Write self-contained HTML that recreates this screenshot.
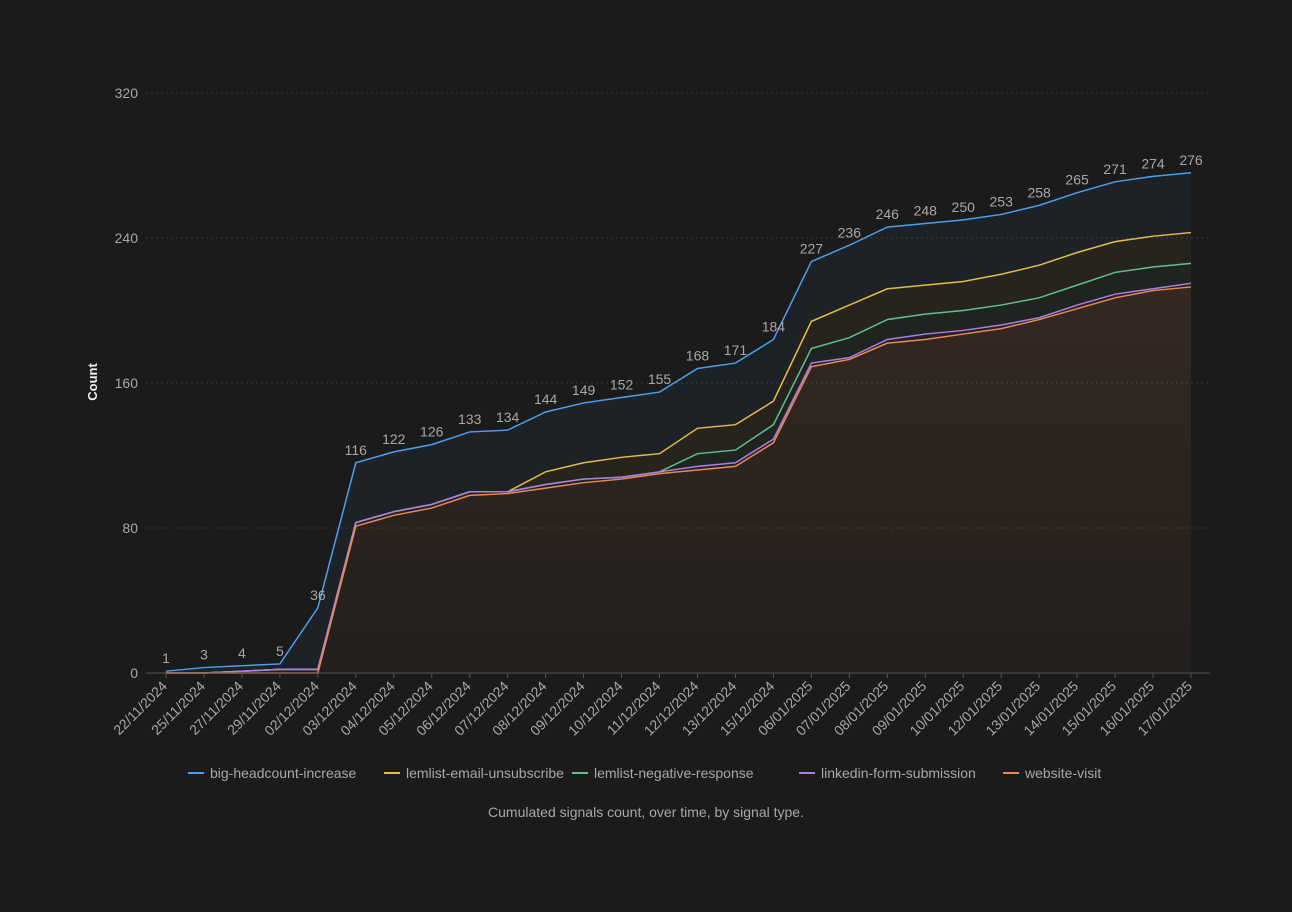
<!DOCTYPE html>
<html><head><meta charset="utf-8"><style>
html,body{margin:0;padding:0;background:#1b1b1b;}
svg text{font-family:"Liberation Sans",sans-serif;}
</style></head><body>
<svg id="chart" width="1292" height="907" xmlns="http://www.w3.org/2000/svg">
<defs>
<linearGradient id="gOrange" x1="0" y1="0" x2="0" y2="1"><stop offset="0" stop-color="#ec8a4e" stop-opacity="0.12"/><stop offset="1" stop-color="#ec8a4e" stop-opacity="0.04"/></linearGradient>
</defs>
<rect width="1292" height="907" fill="#1b1b1b"/>
<g id="grid"></g><g id="areas"></g><g id="lines"></g><g id="labels"></g><g id="axes"></g><g id="legend"></g>
<text x="0" y="0" transform="translate(97,382) rotate(-90)" text-anchor="middle" fill="#f0f0f0" font-size="13" font-weight="bold">Count</text>
<text x="646" y="817" text-anchor="middle" fill="#a8a8a8" font-size="14">Cumulated signals count, over time, by signal type.</text>
</svg>
<script>
const categories=["22/11/2024","25/11/2024","27/11/2024","29/11/2024","02/12/2024","03/12/2024","04/12/2024","05/12/2024","06/12/2024","07/12/2024","08/12/2024","09/12/2024","10/12/2024","11/12/2024","12/12/2024","13/12/2024","15/12/2024","06/01/2025","07/01/2025","08/01/2025","09/01/2025","10/01/2025","12/01/2025","13/01/2025","14/01/2025","15/01/2025","16/01/2025","17/01/2025"];
const bigHeadcount=[1,3,4,5,36,116,122,126,133,134,144,149,152,155,168,171,184,227,236,246,248,250,253,258,265,271,274,276];
const lemlistUnsub=[0,0,1,2,2,83,89,93,100,100,111,116,119,121,135,137,150,194,203,212,214,216,220,225,232,238,241,243];
const lemlistNeg=[0,0,1,2,2,83,89,93,100,100,104,107,108,111,121,123,137,179,185,195,198,200,203,207,214,221,224,226];
const linkedin=[0,0,1,2,2,83,89,93,100,100,104,107,108,111,114,116,129,171,174,184,187,189,192,196,203,209,212,215];
const websiteVisit=[0,0,0,0,0,81,87,91,98,99,102,105,107,110,112,114,127,169,173,182,184,187,190,195,201,207,211,213];
const yTicks=[0,80,160,240,320];
const seriesNames=["big-headcount-increase","lemlist-email-unsubscribe","lemlist-negative-response","linkedin-form-submission","website-visit"];
const seriesData=[bigHeadcount,lemlistUnsub,lemlistNeg,linkedin,websiteVisit];
const colors=["#4a9ff0","#e9bb45","#5fbf8f","#a980e6","#ec8a4e"];
const NS="http://www.w3.org/2000/svg";
const x0=166,x1=1191,y0=673,yTop=93;
const xs=i=>x0+(x1-x0)*i/(categories.length-1);
const ys=v=>y0-(y0-yTop)*v/320;
function mk(tag,attrs,parent){const e=document.createElementNS(NS,tag);for(const k in attrs)e.setAttribute(k,attrs[k]);parent.appendChild(e);return e;}
const grid=document.getElementById('grid'),axes=document.getElementById('axes');
yTicks.forEach(t=>{
  if(t>0){const l=mk('line',{x1:146,x2:1210,y1:ys(t),y2:ys(t),stroke:'#3a3a3a','stroke-dasharray':'2,3'},grid);
  
  }
  const tx=mk('text',{x:138,y:ys(t)+5,'text-anchor':'end',fill:'#a8a8a8','font-size':14},axes);
  tx.textContent=t;
  
  
});
const ax=mk('line',{x1:146,x2:1210,y1:y0,y2:y0,stroke:'#555'},axes);


categories.forEach((c,i)=>{
  mk('line',{x1:xs(i),x2:xs(i),y1:y0,y2:y0+5,stroke:'#555'},axes);
  const t=mk('text',{x:0,y:0,transform:`translate(${xs(i)+2},${y0+14}) rotate(-45)`,'text-anchor':'end',fill:'#a8a8a8','font-size':14},axes);
  t.textContent=c;
  
  
});
const areas=document.getElementById('areas'),lines=document.getElementById('lines');
seriesData.forEach((d,s)=>{
  const pts=d.map((v,i)=>xs(i)+','+ys(v)).join(' ');
  let lower;
  if(s<seriesData.length-1){const nd=seriesData[s+1];lower=nd.map((v,i)=>xs(i)+','+ys(v)).reverse().join(' ');}
  else lower=`${xs(d.length-1)},${y0} ${xs(0)},${y0}`;
  const a=mk('polygon',{points:pts+' '+lower,fill:s==4?'url(#gOrange)':colors[s],'fill-opacity':s==4?1:0.06},areas);
  
  
  const l=mk('polyline',{points:pts,fill:'none',stroke:colors[s],'stroke-width':1.5},lines);
  
  
});
const labels=document.getElementById('labels');
bigHeadcount.forEach((v,i)=>{
  const t=mk('text',{x:xs(i),y:ys(v)-8,'text-anchor':'middle',fill:'#a8a8a8','font-size':14},labels);
  t.textContent=v;
  
  
});
const legend=document.getElementById('legend');
const lx=[188,384,572,799,1003];
seriesNames.forEach((n,s)=>{
  const g=mk('g',{},legend);
  
  
  mk('line',{x1:lx[s],x2:lx[s]+16,y1:773,y2:773,stroke:colors[s],'stroke-width':2},g);
  const t=mk('text',{x:lx[s]+22,y:778,fill:'#a8a8a8','font-size':14},g);
  t.textContent=n;
});
</script>
</body></html>
